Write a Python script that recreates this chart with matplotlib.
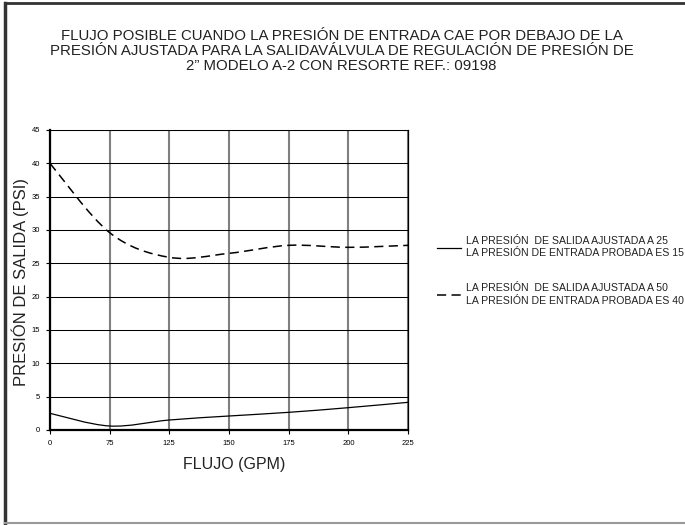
import numpy as np
import matplotlib
matplotlib.use("Agg")
import matplotlib.pyplot as plt
from matplotlib.path import Path
from matplotlib.patches import PathPatch
from matplotlib.lines import Line2D

plt.rcParams['font.family'] = ['Liberation Sans', 'DejaVu Sans']

# datos
flujo = ['0', '75', '125', '150', '175', '200', '225']
salida_25 = [2.5, 0.6, 1.5, 2.1, 2.65, 3.35, 4.15]
salida_50 = [40.0, 29.6, 25.9, 26.5, 27.7, 27.4, 27.7]

titulo = ("FLUJO POSIBLE CUANDO LA PRESIÓN DE ENTRADA CAE POR DEBAJO DE LA\n"
          "PRESIÓN AJUSTADA PARA LA SALIDAVÁLVULA DE REGULACIÓN DE PRESIÓN DE\n"
          "2\u201d MODELO A-2 CON RESORTE REF.: 09198")
etiqueta_25 = "LA PRESIÓN  DE SALIDA AJUSTADA A 25\nLA PRESIÓN DE ENTRADA PROBADA ES 15"
etiqueta_50 = "LA PRESIÓN  DE SALIDA AJUSTADA A 50\nLA PRESIÓN DE ENTRADA PROBADA ES 40"


def curva_suave(x, y):
    # bezier tipo excel (linea suavizada)
    x = np.asarray(x, float)
    y = np.asarray(y, float)
    n = len(x)
    verts = [(x[0], y[0])]
    codes = [Path.MOVETO]
    for i in range(n - 1):
        i0 = max(i - 1, 0)
        i3 = min(i + 2, n - 1)
        c1 = (x[i] + (x[i + 1] - x[i0]) / 6, y[i] + (y[i + 1] - y[i0]) / 6)
        c2 = (x[i + 1] - (x[i3] - x[i]) / 6, y[i + 1] - (y[i3] - y[i]) / 6)
        verts += [c1, c2, (x[i + 1], y[i + 1])]
        codes += [Path.CURVE4] * 3
    return Path(verts, codes)


fig = plt.figure(figsize=(6.85, 5.25), dpi=100)
ax = fig.add_axes([50 / 685, 1 - 430 / 525, 358 / 685, 300 / 525])

pos = np.arange(len(flujo))
ax.add_patch(PathPatch(curva_suave(pos, salida_25), fill=False,
                       edgecolor='black', lw=0.9))
ax.add_patch(PathPatch(curva_suave(pos, salida_50), fill=False,
                       edgecolor='black', lw=1.1, linestyle=(0, (6, 3.5))))

ax.set_xlim(0, len(flujo) - 1)
ax.set_ylim(0, 45)
ax.set_xticks(pos)
ax.set_xticklabels(flujo)
ax.set_yticks(np.arange(0, 46, 5))
ax.tick_params(labelsize=5.5, length=3, width=0.8, pad=4)

ax.yaxis.grid(True, color='black', lw=0.75)
ax.xaxis.grid(True, color='#808080', lw=1.5)
ax.set_axisbelow(True)
ax.spines['left'].set_linewidth(1.6)
ax.spines['bottom'].set_linewidth(1.6)
ax.spines['right'].set_linewidth(0.9)
ax.spines['top'].set_linewidth(0.75)

ax.set_xlabel('FLUJO (GPM)', fontsize=11.5, color='#222222')
ax.xaxis.set_label_coords((234 - 50) / 358, -(464 - 430) / 300, transform=ax.transAxes)
ax.xaxis.label.set_va('center')
ax.set_ylabel('PRESIÓN DE SALIDA (PSI)', fontsize=12, color='#222222')
ax.yaxis.set_label_coords(-(50 - 20) / 358, (430 - 282) / 300, transform=ax.transAxes)
ax.yaxis.label.set_va('center')

fig.text(341.5 / 685, 1 - 29 / 525, titulo, ha='center', va='top', fontsize=10.8,
         color='#222222', linespacing=1.08)

handles = [Line2D([], [], color='black', lw=0.9),
           Line2D([], [], color='black', lw=1.1, linestyle=(0, (6, 3.5)))]
leg = fig.legend(handles, [etiqueta_25, etiqueta_50], loc='upper left',
                 bbox_to_anchor=(437 / 685, 1 - 236 / 525), frameon=False,
                 fontsize=7.6, handlelength=2.3, handletextpad=0.4, labelspacing=2.35,
                 borderpad=0, borderaxespad=0, labelcolor='#222222')
for t in leg.get_texts():
    t.set_linespacing(1.3)

# marco de la figura
fig.add_artist(Line2D([0.007, 0.007], [0.0, 0.994], color='#333333', lw=2.5))
fig.add_artist(Line2D([0.007, 1.0], [0.994, 0.994], color='#333333', lw=2.0))
fig.add_artist(Line2D([0.007, 1.0], [0.004, 0.004], color='#999999', lw=1.5))

plt.savefig('out.png', dpi=100)
